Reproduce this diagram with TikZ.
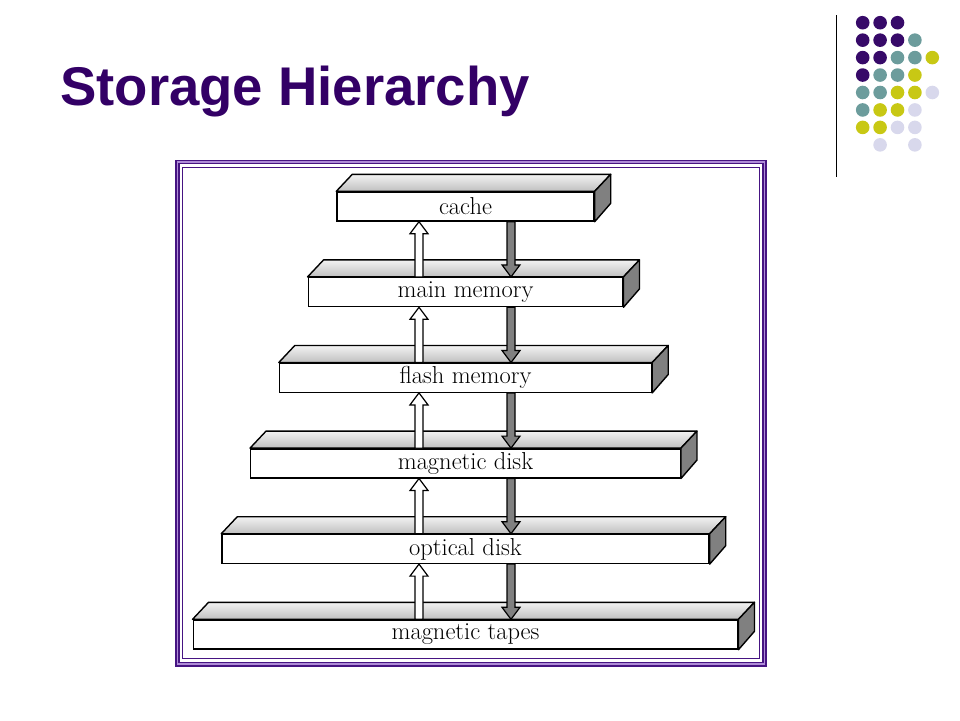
\documentclass[tikz,border=0pt]{standalone}
\usepackage{fontspec}
\newfontfamily\titlefont{Liberation Sans}
\usepackage{tikz}
\usetikzlibrary{calc}
\definecolor{titlepurple}{RGB}{51,0,102}
\definecolor{framedark}{RGB}{70,20,130}
\definecolor{framelight}{RGB}{175,140,215}
\definecolor{dP}{RGB}{55,10,105}
\definecolor{dT}{RGB}{108,156,156}
\definecolor{dY}{RGB}{200,200,20}
\definecolor{dL}{RGB}{216,216,236}
\tikzset{
  slab/.style={draw, fill=white, line width=1.4pt, inner sep=0pt, minimum height=29pt,
    font=\fontsize{24.5}{28}\selectfont},
  topface/.style={draw, line width=1.4pt, line join=round, top color=gray!10, bottom color=gray!50},
  sideface/.style={draw, line width=1.4pt, line join=round, fill=gray},
  uparrow/.style={draw, line width=1.2pt, fill=white},
  downarrow/.style={draw, line width=1.2pt, fill=gray}
}

\begin{document}
\begin{tikzpicture}[x=1pt,y=-1pt]
\useasboundingbox (0,0) rectangle (960,720);
% title and corner decoration
\node[anchor=base west, text=titlepurple, font=\titlefont\bfseries\fontsize{54.5}{60}\selectfont, inner sep=0pt] (title) at (60,105) {Storage Hierarchy};
\draw[line width=1pt] (836.5,15) -- (836.5,177);
\foreach \row [count=\r] in {{dP,dP,dP},{dP,dP,dP,dT},{dP,dP,dT,dT,dY},{dP,dT,dT,dY},{dT,dT,dY,dY,dL},{dT,dY,dY,dL},{dY,dY,dL,dL},{none,dL,none,dL}} {
  \foreach \c [count=\k] in \row {
    \path[fill=\c] ({862.7+17.4*(\k-1)},{22.7+17.45*(\r-1)}) circle (6.8);
  }
}
% frame
\draw[framedark, line width=1.6pt] (175.8,160.3) rectangle (766.2,665.7);
\draw[framelight, line width=1.5pt] (177.3,161.8) rectangle (764.7,664.2);
\draw[framedark, line width=1.8pt] (179,163.5) rectangle (763,662.5);
\draw[framedark, line width=1.2pt] (182.7,167.2) rectangle (759.3,658.8);
% slabs
\foreach \nm/\txt [count=\i from 0] in {cache/cache, mainmem/main memory, flash/flash memory, disk/magnetic disk, optical/optical disk, tapes/magnetic tapes} {
  \node[slab, minimum width={257pt+57.5pt*\i}] (\nm) at (465.5,{206.5+85.6*\i}) {\txt};
  \shade[topface] (\nm.north west) -- ++(16,-17) -- ($(\nm.north east)+(16,-17)$) -- (\nm.north east) -- cycle;
  \filldraw[sideface] (\nm.north east) -- ++(16,-17) -- ++(0,29) -- (\nm.south east) -- cycle;
}
% arrows between levels
\foreach \up/\lo in {cache/mainmem, mainmem/flash, flash/disk, disk/optical, optical/tapes} {
  \coordinate (ub) at ($(\lo.north)+(-46.5,0)$);
  \coordinate (ut) at (ub |- \up.south);
  \draw[uparrow] ($(ub)+(-4,0)$) -- ($(ut)+(-4,12)$) -- ++(-5,0) -- (ut) -- ++(9,12) -- ++(-5,0) -- ($(ub)+(4,0)$) -- cycle;
  \coordinate (db) at ($(\up.south)+(45.5,0)$);
  \coordinate (dd) at (db |- \lo.north);
  \draw[downarrow] ($(db)+(-4,0)$) -- ($(dd)+(-4,-12)$) -- ++(-5,0) -- (dd) -- ++(9,-12) -- ++(-5,0) -- ($(db)+(4,0)$) -- cycle;
}
\end{tikzpicture}
\end{document}
